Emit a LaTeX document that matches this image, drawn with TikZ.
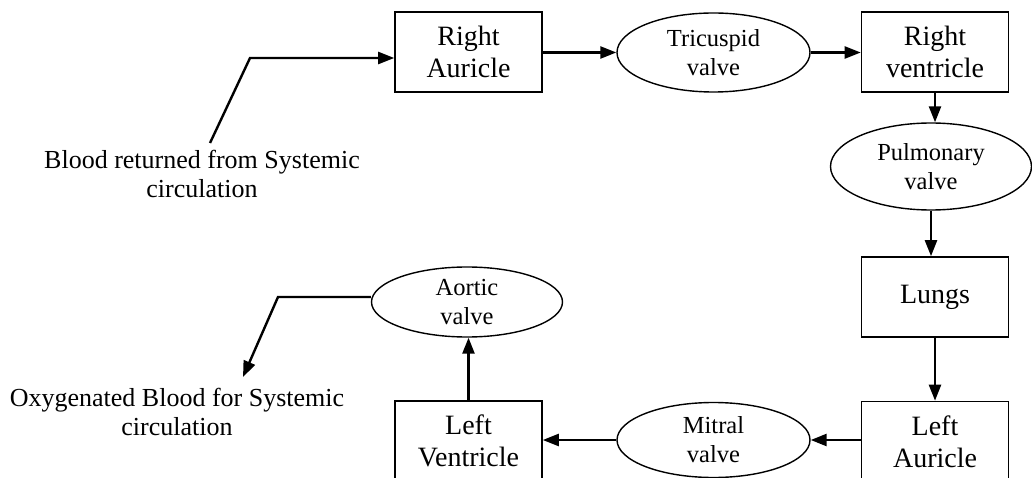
\documentclass[tikz,border=0pt]{standalone}
\usepackage{fontspec}
\setmainfont{Liberation Serif}
\usetikzlibrary{shapes.geometric,arrows.meta}
\begin{document}
\begin{tikzpicture}[x=1pt,y=-1pt,
  box/.style={draw,line width=1.6pt,minimum width=147pt,minimum height=80pt,align=center,inner sep=0pt,font=\fontsize{28}{32}\selectfont},
  valve/.style={draw,ellipse,line width=1.4pt,inner sep=0pt,align=center,font=\fontsize{24.5}{29}\selectfont},
  lbl/.style={align=center,inner sep=0pt,font=\fontsize{26}{28.5}\selectfont},
  flow/.style={line width=2.4pt,-{Triangle[length=16pt,width=12pt]}},
  plain/.style={line width=2.4pt}]
\useasboundingbox (0,0) rectangle (1032,478);
\clip (0,0) rectangle (1032,478);
\node[box] (ra) at (468.5,52) {Right\\Auricle};
\node[valve,minimum width=193pt,minimum height=79pt] (tri) at (713.5,52.5) {Tricuspid\\valve};
\node[box] (rv) at (935,52) {Right\\ventricle};
\node[valve,minimum width=201pt,minimum height=87pt] (pulm) at (931,166.5) {Pulmonary\\valve};
\node[box] (lungs) at (935,297) {Lungs};
\node[box] (la) at (935,441.5) {Left\\Auricle};
\node[valve,minimum width=193pt,minimum height=75pt] (mit) at (713.5,440) {Mitral\\valve};
\node[box] (lv) at (468.5,441) {Left\\Ventricle};
\node[valve,minimum width=191pt,minimum height=70pt] (aor) at (467,302) {Aortic\\valve};
\node[lbl] (inlbl) at (202,174) {Blood returned from Systemic\\circulation};
\node[lbl] (outlbl) at (177,412) {Oxygenated Blood for Systemic\\circulation};
\coordinate (in1) at (210,143);
\coordinate (in2) at (250,58);
\coordinate (out1) at (278,297);
\coordinate (out2) at (243,377);
\draw[flow] (in1) -- (in2) -- (ra.west |- in2);
\draw[flow] (ra.east |- tri.west) -- (tri.west);
\draw[flow] (tri.east) -- (rv.west |- tri.east);
\draw[flow] (rv.south) -- (rv.south |- pulm.north);
\draw[flow] (pulm.south) -- (pulm.south |- lungs.north);
\draw[flow] (lungs.south) -- (la.north);
\draw[flow] (la.west |- mit.east) -- (mit.east);
\draw[flow] (mit.west) -- (lv.east |- mit.west);
\draw[flow] (lv.north) -- (lv.north |- aor.south);
\draw[flow] (aor.west |- out1) -- (out1) -- (out2);
\end{tikzpicture}
\end{document}
